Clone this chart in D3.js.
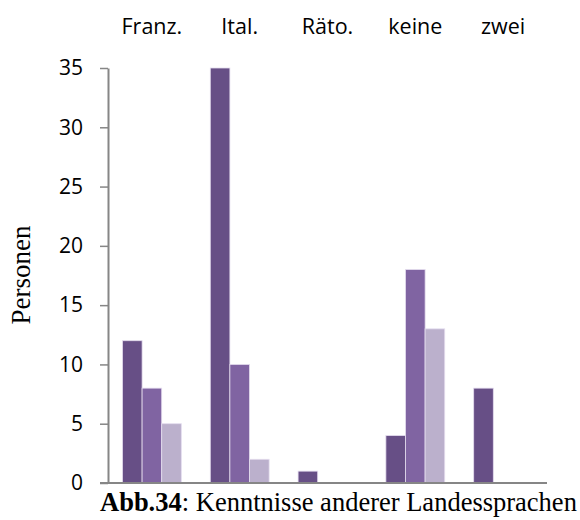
<!DOCTYPE html>
<html>
<head>
<meta charset="utf-8">
<script src="https://cdn.jsdelivr.net/npm/d3@7"></script>
<style>
  body { margin: 0; background: #fff; }
</style>
</head>
<body>
<svg id="chart" width="580" height="520"></svg>
<script>
// Data
const categories = ["Franz.", "Ital.", "Räto.", "keine", "zwei"];
const seriesNames = ["s1", "s2", "s3"];
const seriesA = [12, 35, 1, 4, 8];
const seriesB = [8, 10, 0, 18, 0];
const seriesC = [5, 2, 0, 13, 0];
const yTicks = [0, 5, 10, 15, 20, 25, 30, 35];
const colors = ["#674f86", "#8064a2", "#bbb0cc"];

const allSeries = [seriesA, seriesB, seriesC];
const rows = categories.map((c, i) => ({
    name: c,
    values: allSeries.map((s, j) => ({ key: seriesNames[j], value: s[i] }))
}));

const svg = d3.select("#chart");

// Scales
const x0 = d3.scaleBand()
    .domain(categories)
    .range([108, 547])
    .paddingInner(0.33)
    .paddingOuter(0.165);

const x1 = d3.scaleBand()
    .domain(seriesNames)
    .range([0, x0.bandwidth()]);

const y = d3.scaleLinear()
    .domain([0, 35])
    .range([483, 68]);

// Bars
const groups = svg.selectAll(".grp")
    .data(rows)
    .enter().append("g")
    .attr("class", "grp")
    .attr("transform", d => `translate(${x0(d.name)},0)`);

groups.selectAll("rect")
    .data(d => d.values.filter(v => v.value > 0))
    .enter().append("rect")
    .attr("x", d => x1(d.key))
    .attr("y", d => y(d.value))
    .attr("width", x1.bandwidth())
    .attr("height", d => y(0) - y(d.value))
    .attr("fill", d => colors[seriesNames.indexOf(d.key)])
    .attr("stroke", "#e4dcee")
    .attr("stroke-width", 0.8);

// Y axis
const yAxis = svg.append("g")
    .attr("transform", "translate(108,0)")
    .call(d3.axisLeft(y).tickValues(yTicks).tickSize(8).tickSizeOuter(0).tickPadding(17));

yAxis.select(".domain").attr("stroke", "#868686").attr("stroke-width", 2);
yAxis.selectAll(".tick line").attr("stroke", "#868686").attr("stroke-width", 1.5);
yAxis.selectAll(".tick text")
    .attr("fill", "#000")
    .style("font-family", "'Open Sans', sans-serif")
    .style("font-size", "21px");

// X axis line
svg.append("line")
    .attr("x1", 100)
    .attr("x2", 547)
    .attr("y1", y(0))
    .attr("y2", y(0))
    .attr("stroke", "#868686")
    .attr("stroke-width", 2);

// Category labels on top
svg.selectAll(".cat")
    .data(categories)
    .enter().append("text")
    .attr("class", "cat")
    .attr("x", d => x0(d) + x0.bandwidth() / 2)
    .attr("y", 34)
    .attr("text-anchor", "middle")
    .style("font-family", "'Open Sans', sans-serif")
    .style("font-size", "21.5px")
    .text(d => d);

// Y axis title
svg.append("text")
    .attr("transform", "translate(30,275) rotate(-90)")
    .attr("text-anchor", "middle")
    .style("font-family", "'Liberation Serif', 'Times New Roman', serif")
    .style("font-size", "27px")
    .text("Personen");

// Caption
const caption = svg.append("text")
    .attr("x", 100)
    .attr("y", 511)
    .style("font-family", "'Liberation Serif', 'Times New Roman', serif")
    .style("font-size", "26.5px");
caption.append("tspan").style("font-weight", "bold").text("Abb.34");
caption.append("tspan").text(": Kenntnisse anderer Landessprachen");
</script>
</body>
</html>
